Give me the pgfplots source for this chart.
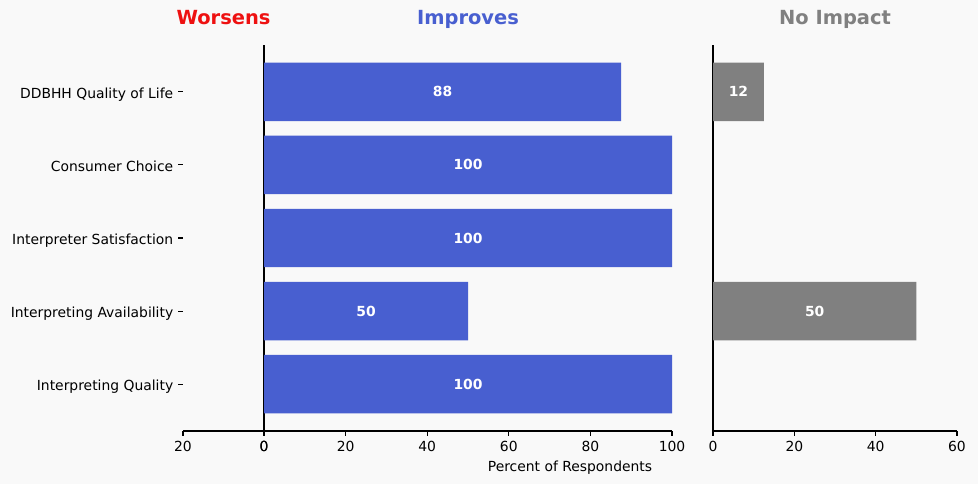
\documentclass[border=0pt]{standalone}
\usepackage{fontspec}
\setmainfont{DejaVu Sans}
\usepackage{pgfplots}
\pgfplotsset{compat=1.18}
\usepackage{pgfplotstable}
\definecolor{bg}{HTML}{F9F9F9}
\definecolor{impblue}{HTML}{485FD0}
\definecolor{worsered}{HTML}{EE1111}
\definecolor{nogray}{HTML}{808080}
\newlength{\pxu}\setlength{\pxu}{0.72pt}

\pgfplotstableread{
y val lab
0 100 100
1 50 50
2 100 100
3 100 100
4 87.5 88
}\improves
\pgfplotstableread{
y val lab
1 50 50
4 12.5 12
}\noimpact
\pgfplotstableread{
y val
0 0
1 0
2 0
3 0
4 0
}\worsens

\pgfplotsset{
  panel/.style={
    scale only axis,
    height=386\pxu,
    ymin=-0.64, ymax=4.64,
    axis x line*=bottom,
    axis y line*=left,
    axis line style={-, line width=0.8pt, black},
    tick align=outside,
    major tick length=3.5pt,
    tick style={black, line width=0.8pt},
    ticklabel style={font=\fontsize{10}{12}\selectfont},
    /pgf/number format/assume math mode=true,
    every axis title/.style={at={(0.5,1)}, anchor=base, yshift=20\pxu,
      font=\fontsize{14}{16}\selectfont\bfseries},
    clip=false,
  },
  lbl/.style={draw=none, mark=none, nodes near coords, point meta=explicit symbolic,
    nodes near coords style={anchor=center, text=white,
      font=\fontsize{10}{12}\selectfont\bfseries}},
}

\begin{document}
\begin{tikzpicture}
\fill[bg] (0,0) rectangle (978\pxu,484\pxu);

\begin{axis}[panel, at={(183\pxu,53\pxu)}, anchor=south west, width=81\pxu,
  xmin=0, xmax=20, x dir=reverse, xtick={0,20},
  ytick={0,1,2,3,4},
  yticklabels={Interpreting Quality, Interpreting Availability, Interpreter Satisfaction, Consumer Choice, DDBHH Quality of Life},
  yticklabel style={anchor=base east, yshift=-4.5pt},
  y axis line style={draw=none},
  title=Worsens, title style={text=worsered}]
\addplot[xbar, bar width=0.8, draw=none, fill=worsered] table[x=val, y=y]{\worsens};
\end{axis}

\begin{axis}[panel, at={(264\pxu,53\pxu)}, anchor=south west, width=408\pxu,
  xmin=0, xmax=100, xtick={0,20,40,60,80,100}, ytick=\empty,
  title=Improves, title style={text=impblue}]
\addplot[xbar, bar width=0.8, draw=none, fill=impblue] table[x=val, y=y]{\improves};
\addplot[lbl] table[x expr=\thisrow{val}/2, y=y, meta=lab]{\improves};
\end{axis}

\begin{axis}[panel, at={(713\pxu,53\pxu)}, anchor=south west, width=244\pxu,
  xmin=0, xmax=60, xtick={0,20,40,60}, ytick=\empty,
  title=No Impact, title style={text=nogray}]
\addplot[xbar, bar width=0.8, draw=none, fill=nogray] table[x=val, y=y]{\noimpact};
\addplot[lbl] table[x expr=\thisrow{val}/2, y=y, meta=lab]{\noimpact};
\end{axis}

\node[anchor=base, font=\fontsize{10}{12}\selectfont] at (570\pxu,13\pxu) {Percent of Respondents};
\end{tikzpicture}
\end{document}
